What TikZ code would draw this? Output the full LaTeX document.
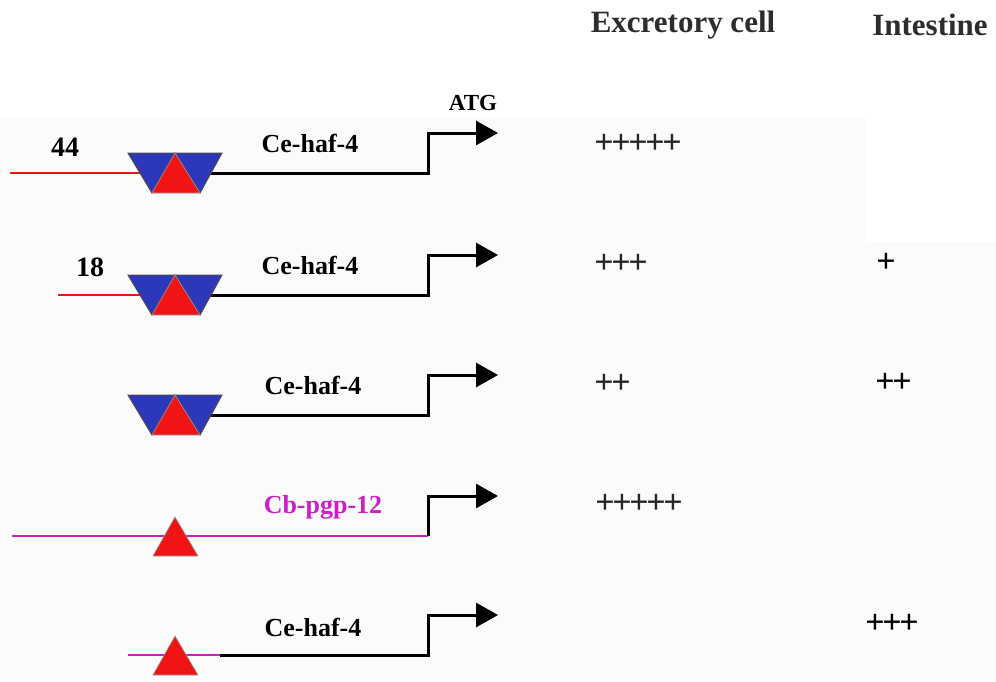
\documentclass[tikz,border=0pt]{standalone}
\usepackage{fontspec}
\setmainfont{Liberation Serif}
\newfontfamily\scorefont[LetterSpace=-7]{Liberation Serif}
\usetikzlibrary{arrows.meta}

\definecolor{siteblue}{RGB}{45,55,185}
\definecolor{sitered}{RGB}{240,20,20}
\definecolor{pgpmag}{RGB}{205,30,200}
\definecolor{headgray}{RGB}{45,45,45}

\begin{document}
\begin{tikzpicture}[x=0.5pt, y=-0.5pt,
	every node/.style={font=\bfseries\fontsize{13}{15}\selectfont, inner sep=0pt},
	gene/.style={line width=1.5pt, -{Triangle[length=11pt,width=12pt]}},
	redline/.style={sitered, line width=1pt},
	pgpline/.style={pgpmag, line width=1.2pt},
	bluesite/.style={fill=siteblue, draw=black!70, line width=0.5pt},
	redsite/.style={fill=sitered, draw=black!40, line width=0.3pt},
	score/.style={anchor=west, font=\scorefont\bfseries\fontsize{17}{19}\selectfont, text=black!85},
	head/.style={font=\bfseries\fontsize{15.5}{17}\selectfont, text=headgray}]
	\useasboundingbox (0,0) rectangle (996,681);
	\fill[gray!3] (0,118) -- (865,118) -- (865,242) -- (996,242) -- (996,681) -- (0,681) -- cycle;

	% one line height per construct
	\foreach \i/\y in {1/173,2/295,3/415,4/536,5/655} {
		\coordinate (s\i) at (175,\y);
		\coordinate (k\i) at (428,\y);
		\coordinate (t\i) at (498,\y-40);
	}
	\coordinate (p1) at (10,173);
	\coordinate (p2) at (58,295);
	\coordinate (p4) at (12,536);
	\coordinate (p5) at (128,655);
	\coordinate (m5) at (220,655);

	% upstream sequence and coding start
	\draw[redline] (p1) -- (s1);
	\draw[redline] (p2) -- (s2);
	\draw[pgpline] (p4) -- (k4);
	\draw[pgpline] (p5) -- (m5);
	\draw[gene] (s1) -- (k1) |- (t1);
	\draw[gene] (s2) -- (k2) |- (t2);
	\draw[gene] (s3) -- (k3) |- (t3);
	\draw[gene] (k4) |- (t4);
	\draw[gene] (m5) -- (k5) |- (t5);

	% binding sites
	\foreach \y in {173,295,415} {
		\filldraw[bluesite] (128,\y-20) -- (175,\y-20) -- (152,\y+20) -- cycle;
		\filldraw[bluesite] (175,\y-20) -- (222,\y-20) -- (200,\y+20) -- cycle;
		\filldraw[redsite] (175,\y-20) -- (152,\y+20) -- (200,\y+20) -- cycle;
	}
	\foreach \y in {536,655}
		\filldraw[redsite] (175,\y-19) -- (153,\y+20) -- (198,\y+20) -- cycle;

	% labels
	\node (atg) at (473,103) {\fontsize{11.5}{13}\selectfont ATG};
	\node[font=\bfseries\fontsize{14}{16}\selectfont] (n44) at (65,147) {44};
	\node[font=\bfseries\fontsize{14}{16}\selectfont] (n18) at (90,267) {18};
	\node (g1) at (310,143) {Ce-haf-4};
	\node (g2) at (310,265) {Ce-haf-4};
	\node (g3) at (313,385) {Ce-haf-4};
	\node[text=pgpmag] (g4) at (323,507) {Cb-pgp-12};
	\node (g5) at (313,627) {Ce-haf-4};

	% expression scores
	\node[head] (exc) at (683,25) {Excretory cell};
	\node[head] (int) at (930,25) {Intestine};
	\node[score] (e1) at (594,144) {+++++};
	\node[score] (e2) at (594,264) {+++};
	\node[score] (e3) at (594,384) {++};
	\node[score] (e4) at (595,504) {+++++};
	\node[score, text=black] (i2) at (876,263) {+};
	\node[score, text=black] (i3) at (875,383) {++};
	\node[score, text=black] (i5) at (865,624) {+++};
\end{tikzpicture}
\end{document}
